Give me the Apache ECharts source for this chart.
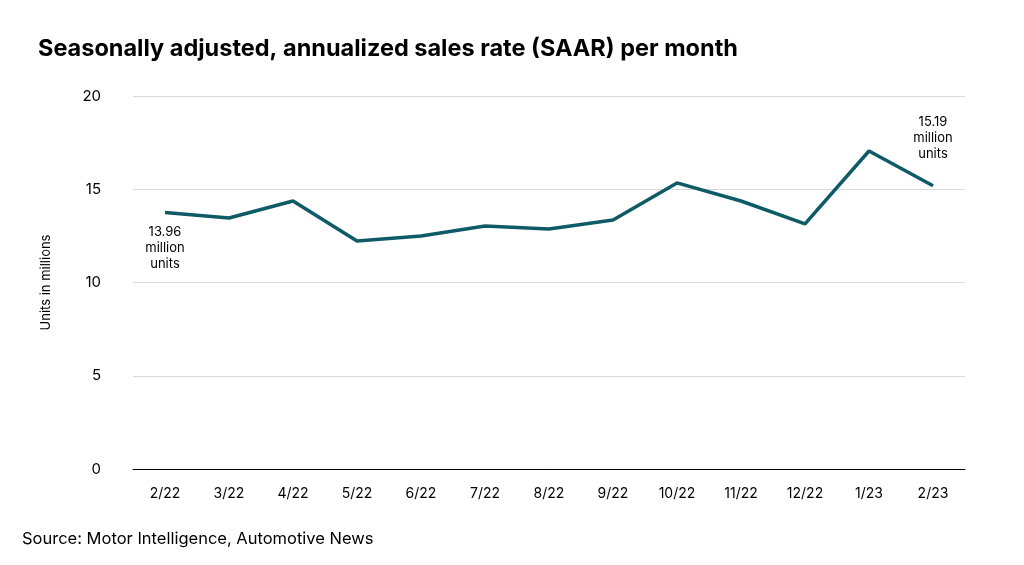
<!DOCTYPE html>
<html><head><meta charset="utf-8">
<script src="https://cdn.jsdelivr.net/npm/echarts@6/dist/echarts.min.js"></script>
<style>html,body{margin:0;padding:0;background:#fff}#c{width:1024px;height:565px}</style>
</head><body><div id="c"></div>
<script>
const categories = ['2/22','3/22','4/22','5/22','6/22','7/22','8/22','9/22','10/22','11/22','12/22','1/23','2/23'];
const saar = [13.75,13.46,14.37,12.22,12.49,13.03,12.87,13.35,15.34,14.37,13.14,17.05,15.19];
const yTicks = {min:0,max:20,interval:5};
const F = 'Inter, "Liberation Sans", sans-serif';
const chart = echarts.init(document.getElementById('c'));
const data = saar.map((v,i)=>{
  if(i===0) return {value:v,label:{show:true,position:'bottom',distance:12,formatter:'13.96\nmillion\nunits',align:'center'}};
  if(i===saar.length-1) return {value:v,label:{show:true,position:'top',distance:24,formatter:'15.19\nmillion\nunits',align:'center'}};
  return v;
});
chart.setOption({
  animation:false,
  title:[{text:'Seasonally adjusted, annualized sales rate (SAAR) per month',left:33,top:32,textStyle:{fontFamily:F,fontSize:23.5,fontWeight:'bold',color:'#000'}},
         {text:'Source: Motor Intelligence, Automotive News',left:17,top:526,textStyle:{fontFamily:F,fontSize:16.5,fontWeight:'normal',color:'#000'}}],
  grid:{left:133,right:59,top:96,bottom:96},
  xAxis:{type:'category',data:categories,axisTick:{show:false},axisLine:{lineStyle:{color:'#000',width:1}},
    axisLabel:{fontFamily:F,fontSize:14,color:'#000',margin:18}},
  yAxis:{type:'value',min:yTicks.min,max:yTicks.max,interval:yTicks.interval,name:'Units in millions',nameLocation:'middle',nameGap:80,
    nameTextStyle:{fontFamily:F,fontSize:13,color:'#000'},
    axisLabel:{fontFamily:F,fontSize:15,color:'#000',margin:32},splitLine:{lineStyle:{color:'#d9d9d9'}}},
  series:[{type:'line',data:data,symbol:'circle',symbolSize:0,showSymbol:true,lineStyle:{color:'#0e5a66',width:3.5},itemStyle:{color:'#0e5a66'},
    label:{fontFamily:F,fontSize:13,color:'#000',lineHeight:16}}]
});
</script></body></html>
